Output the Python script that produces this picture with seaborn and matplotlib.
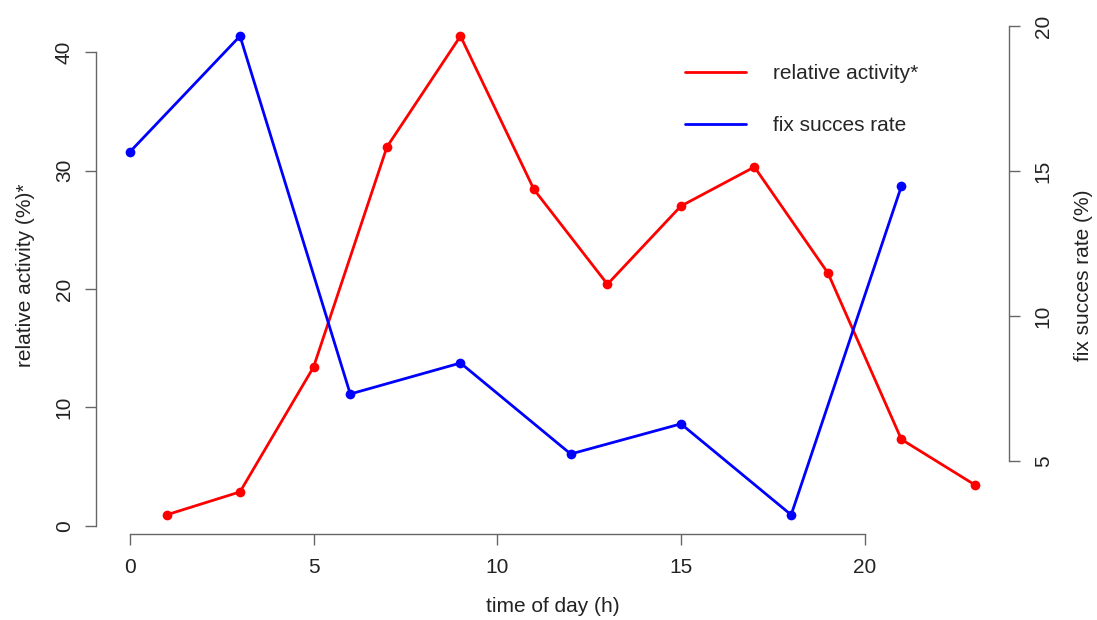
import matplotlib
matplotlib.use("Agg")
import matplotlib.pyplot as plt
from matplotlib.lines import Line2D
import seaborn as sns
import pandas as pd

# datos
hours_activity = [1, 3, 5, 7, 9, 11, 13, 15, 17, 19, 21, 23]
activity = [0.93, 2.87, 13.4, 32.0, 41.35, 28.4, 20.4, 27.0, 30.3, 21.35, 7.3, 3.46]
hours_fix = [0, 3, 6, 9, 12, 15, 18, 21]
fix_rate = [15.66, 19.66, 7.31, 8.38, 5.24, 6.28, 3.14, 14.48]
left_ticks = [0, 10, 20, 30, 40]
right_ticks = [5, 10, 15, 20]
x_ticks = [0, 5, 10, 15, 20]

sns.set_style("white")
plt.rcParams['font.family'] = ['Liberation Sans', 'DejaVu Sans']

df_act = pd.DataFrame({"hour": hours_activity, "activity": activity})
df_fix = pd.DataFrame({"hour": hours_fix, "fix": fix_rate})


def r_lim(vals):
    # rango estilo R (4% extra)
    lo, hi = min(vals), max(vals)
    pad = (hi - lo) * 0.04
    return lo - pad, hi + pad


fig = plt.figure(figsize=(10.97, 6.2), dpi=100)
ax = fig.add_axes([0.0875, 0.1387, 0.832, 0.834])
ax2 = ax.twinx()

axis_col = "#666666"
text_col = "#222222"
fs = 15

sns.lineplot(data=df_act, x="hour", y="activity", ax=ax, color="red", linewidth=2,
             marker="o", markersize=7, markeredgewidth=0)
sns.lineplot(data=df_fix, x="hour", y="fix", ax=ax2, color="blue", linewidth=2,
             marker="o", markersize=7, markeredgewidth=0)

ax.set_xlim(r_lim(hours_activity + hours_fix))
ax.set_ylim(r_lim(activity))
ax2.set_ylim(r_lim(fix_rate))

ax.set_xticks(x_ticks)
ax.set_yticks(left_ticks)
ax2.set_yticks(right_ticks)

for a in (ax, ax2):
    for s in a.spines.values():
        s.set_visible(False)
ax.spines['left'].set_visible(True)
ax.spines['bottom'].set_visible(True)
ax2.spines['right'].set_visible(True)
ax.spines['left'].set_bounds(0, 40)
ax.spines['bottom'].set_bounds(0, 20)
ax2.spines['right'].set_bounds(5, 20)
for s in [ax.spines['left'], ax.spines['bottom'], ax2.spines['right']]:
    s.set_color(axis_col)
    s.set_linewidth(1.0)

ax.tick_params(axis='x', direction='out', length=8, width=1.0, color=axis_col,
               labelsize=fs, labelcolor=text_col, pad=9, bottom=True)
ax.tick_params(axis='y', direction='out', length=8, width=1.0, color=axis_col,
               labelsize=fs, labelcolor=text_col, pad=8, left=True)
ax2.tick_params(axis='y', direction='out', length=8, width=1.0, color=axis_col,
                labelsize=fs, labelcolor=text_col, pad=10, right=True)
plt.setp(ax.get_yticklabels(), rotation=90, va='center')
plt.setp(ax2.get_yticklabels(), rotation=90, va='center')

ax.set_xlabel("time of day (h)", fontsize=fs, color=text_col, labelpad=15)
ax.set_ylabel("relative activity (%)*", fontsize=fs, color=text_col, labelpad=14)
ax2.set_ylabel("fix succes rate (%)", fontsize=fs, color=text_col, labelpad=15)

handles = [Line2D([], [], color="red", linewidth=2),
           Line2D([], [], color="blue", linewidth=2)]
ax.legend(handles, ["relative activity*", "fix succes rate"], frameon=False,
          loc="upper left", bbox_to_anchor=(0.625, 0.945), fontsize=fs,
          handlelength=2.9, handletextpad=1.3, labelspacing=1.6)

fig.savefig("out.png", dpi=100)
